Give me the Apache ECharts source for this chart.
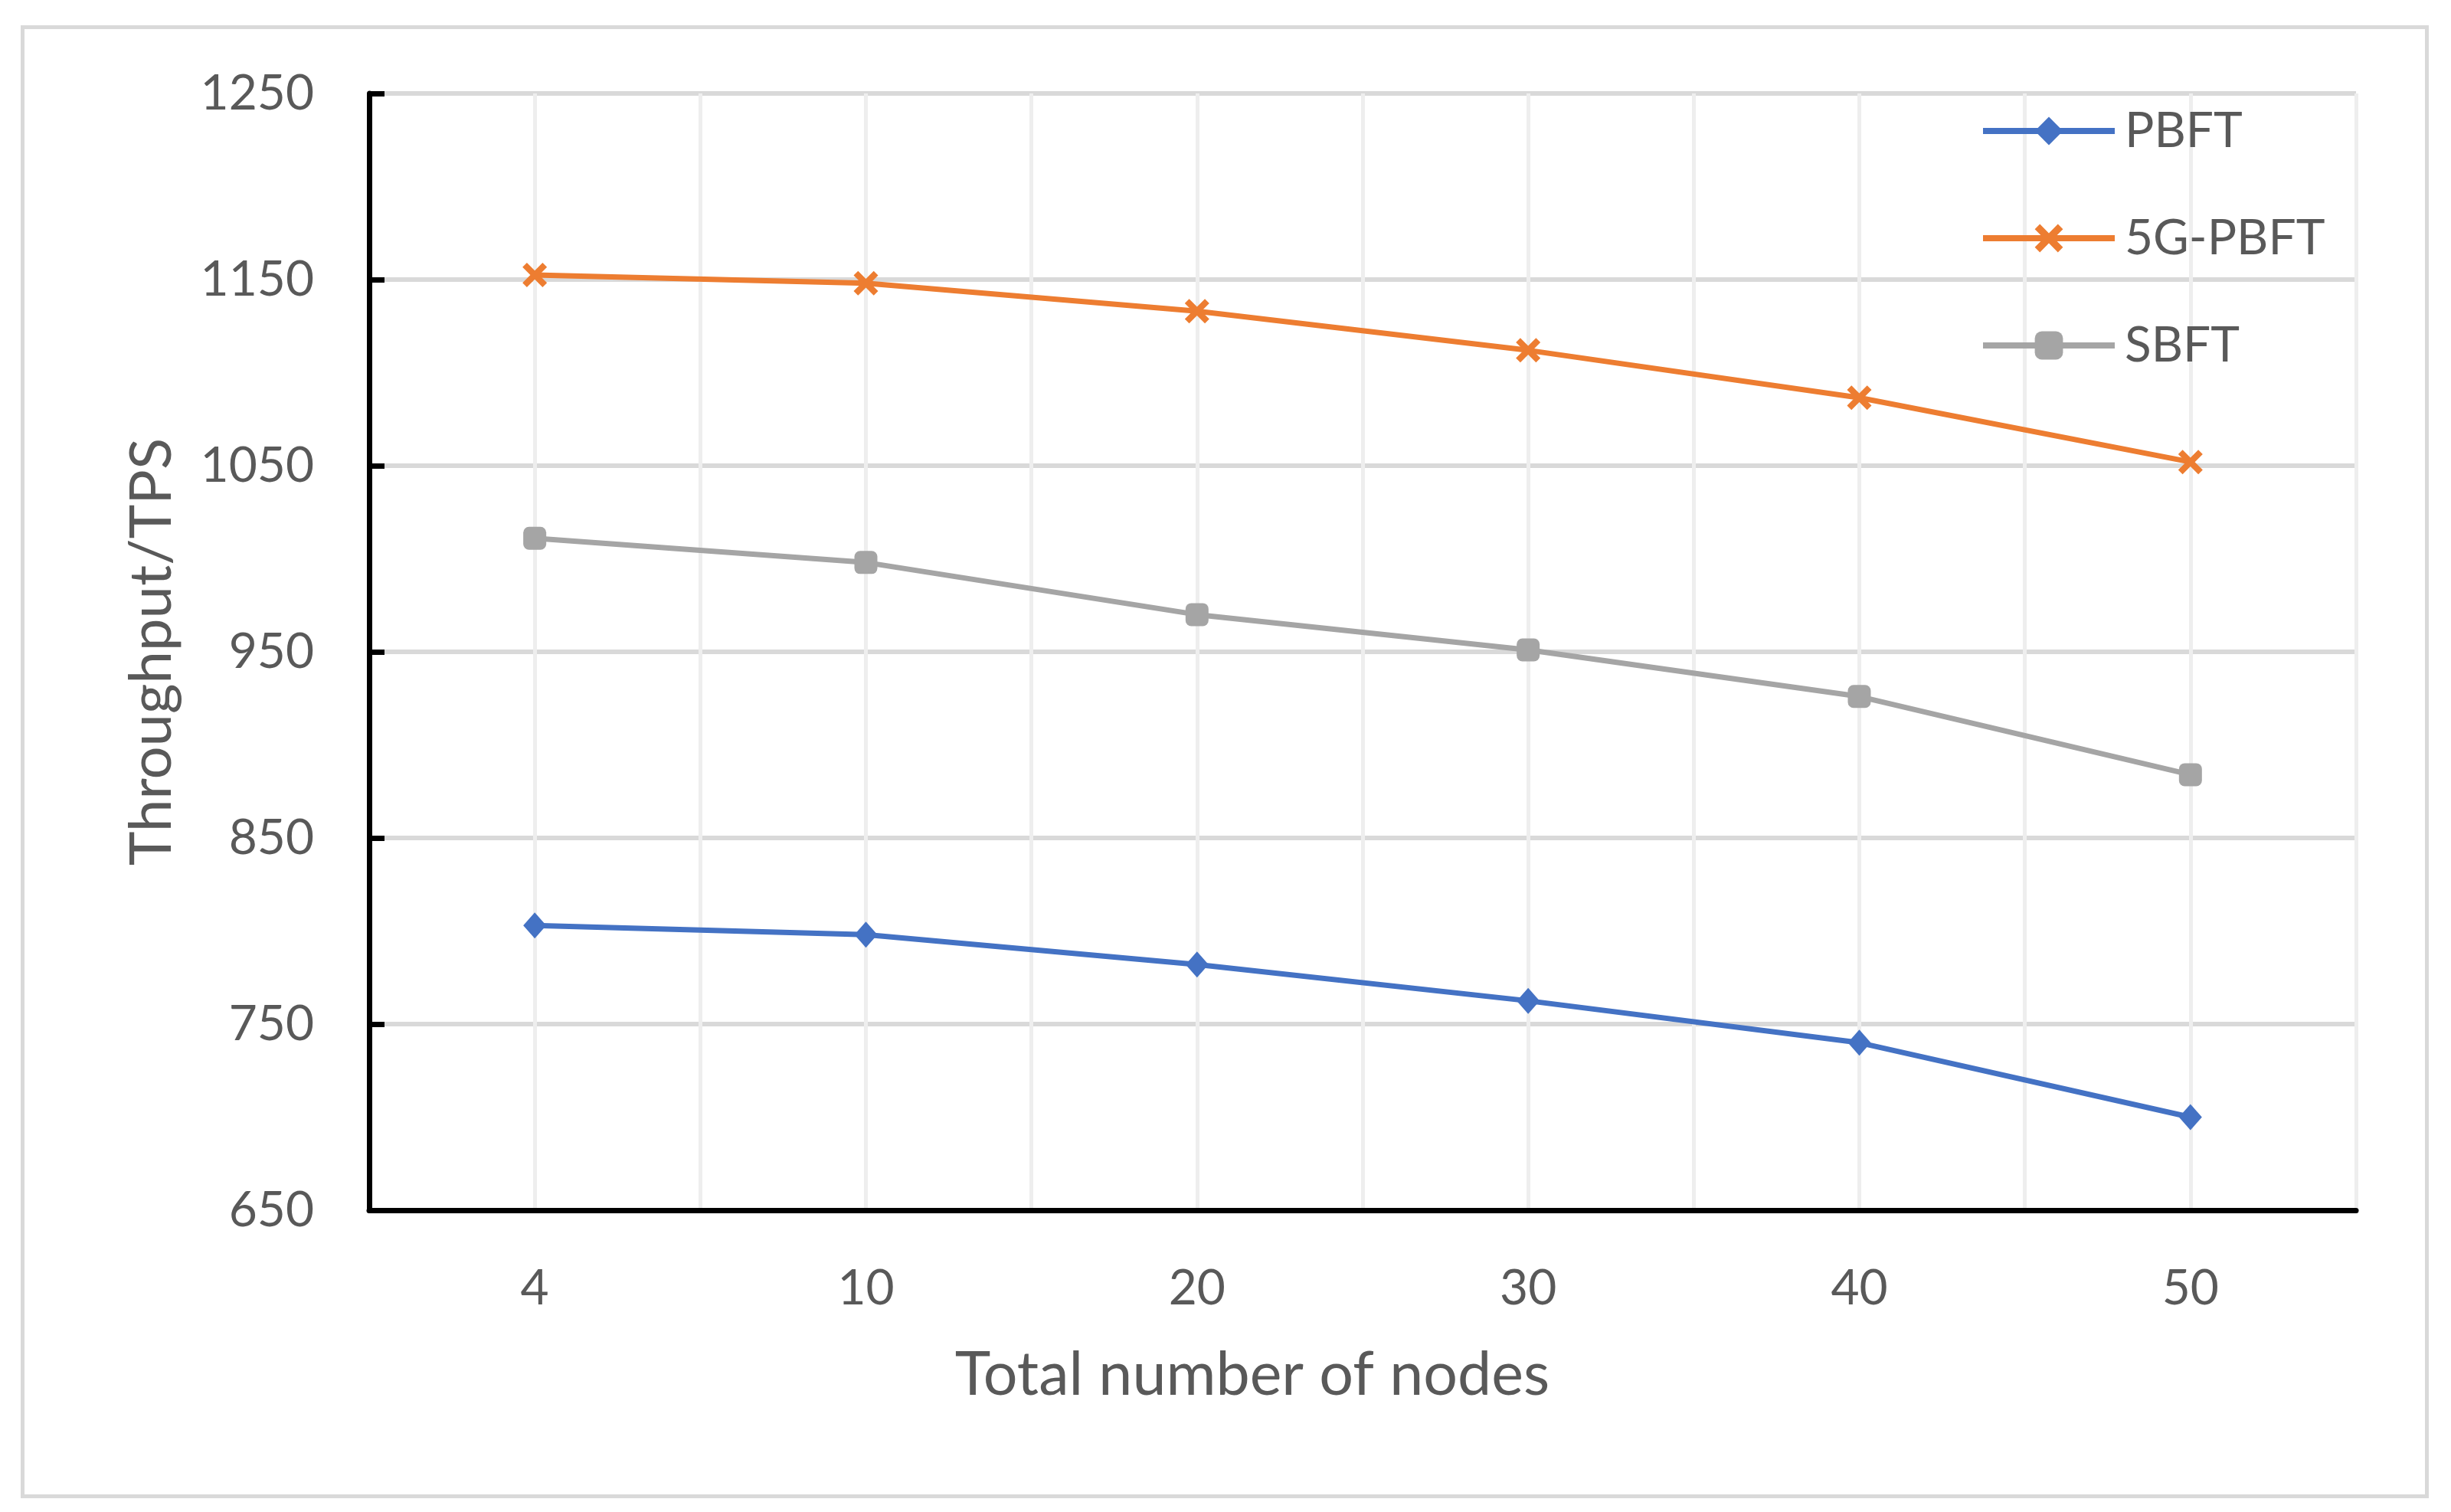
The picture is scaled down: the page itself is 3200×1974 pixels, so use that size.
<!DOCTYPE html>
<html>
<head>
<meta charset="utf-8">
<script src="https://cdn.jsdelivr.net/npm/echarts@6/dist/echarts.min.js"></script>
<style>
html,body{margin:0;padding:0;background:#fff;}
#chart{width:3200px;height:1974px;}
</style>
</head>
<body>
<div id="chart"></div>
<script>
const categories = ['4', '10', '20', '30', '40', '50'];
const pbft = [803, 798, 782, 762.5, 740, 700];
const pbft5g = [1152.5, 1148, 1133, 1112, 1086.5, 1052];
const sbft = [1011, 998, 970, 951, 926, 884];
const seriesNames = ['PBFT', '5G-PBFT', 'SBFT'];
const yTitle = 'Throughput/TPS';
const xTitle = 'Total number of nodes';

const FONT = 'Lato';
const TXT = '#595959';
const xPath = 'path://M0,18 L18,0 L50,32 L82,0 L100,18 L68,50 L100,82 L82,100 L50,68 L18,100 L0,82 L32,50 Z';

const chart = echarts.init(document.getElementById('chart'), null, {renderer: 'canvas'});
chart.setOption({
  backgroundColor: '#ffffff',
  animation: false,
  textStyle: {fontFamily: FONT},
  graphic: [{
    type: 'rect', left: 27, top: 33, z: -10,
    shape: {width: 3139, height: 1918},
    style: {fill: 'none', stroke: '#d9d9d9', lineWidth: 5}
  }],
  grid: {left: 482, right: 124, top: 122, bottom: 394},
  legend: {
    orient: 'vertical', left: 2580, top: 134,
    itemWidth: 172, itemHeight: 46, itemGap: 76,
    data: seriesNames,
    lineStyle: {width: 8},
    textStyle: {fontFamily: FONT, fontSize: 64, color: TXT, padding: [0, 0, 0, 8]}
  },
  xAxis: [{
    type: 'category', data: categories, boundaryGap: true,
    axisLine: {lineStyle: {color: '#000', width: 7}},
    axisTick: {alignWithLabel: true, inside: true, length: 22, lineStyle: {color: '#000', width: 7}},
    axisLabel: {fontFamily: FONT, fontSize: 64, color: TXT, margin: 70},
    splitLine: {show: false},
    name: xTitle, nameLocation: 'middle', nameGap: 176,
    nameTextStyle: {fontFamily: FONT, fontSize: 79, color: TXT, padding: [0, 288, 0, 0]},
    z: 5
  }, {
    type: 'value', min: 0, max: 12, interval: 1, position: 'bottom',
    axisLine: {show: false}, axisTick: {show: false}, axisLabel: {show: false},
    splitLine: {show: true, lineStyle: {color: '#eeeeee', width: 5}}
  }],
  yAxis: {
    type: 'value', min: 650, max: 1250, interval: 100,
    axisLine: {show: true, lineStyle: {color: '#000', width: 7}},
    axisTick: {show: true, inside: true, length: 20, lineStyle: {color: '#000', width: 7}},
    axisLabel: {fontFamily: FONT, fontSize: 64, color: TXT, margin: 72, formatter: v => String(v)},
    splitLine: {lineStyle: {color: '#d9d9d9', width: 6}},
    name: yTitle, nameLocation: 'middle', nameGap: 246, nameRotate: 90,
    nameTextStyle: {fontFamily: FONT, fontSize: 76, color: TXT}
  },
  series: [{
    name: seriesNames[0], type: 'line', data: pbft,
    symbol: 'diamond', symbolSize: [30, 34],
    lineStyle: {color: '#4472C4', width: 7},
    itemStyle: {color: '#4472C4'}, z: 3
  }, {
    name: seriesNames[1], type: 'line', data: pbft5g,
    symbol: xPath, symbolSize: 32,
    lineStyle: {color: '#ED7D31', width: 7},
    itemStyle: {color: '#ED7D31'}, z: 3
  }, {
    name: seriesNames[2], type: 'line', data: sbft,
    symbol: 'roundRect', symbolSize: 30,
    lineStyle: {color: '#A5A5A5', width: 7},
    itemStyle: {color: '#A5A5A5'}, z: 3
  }]
});
</script>
</body>
</html>
